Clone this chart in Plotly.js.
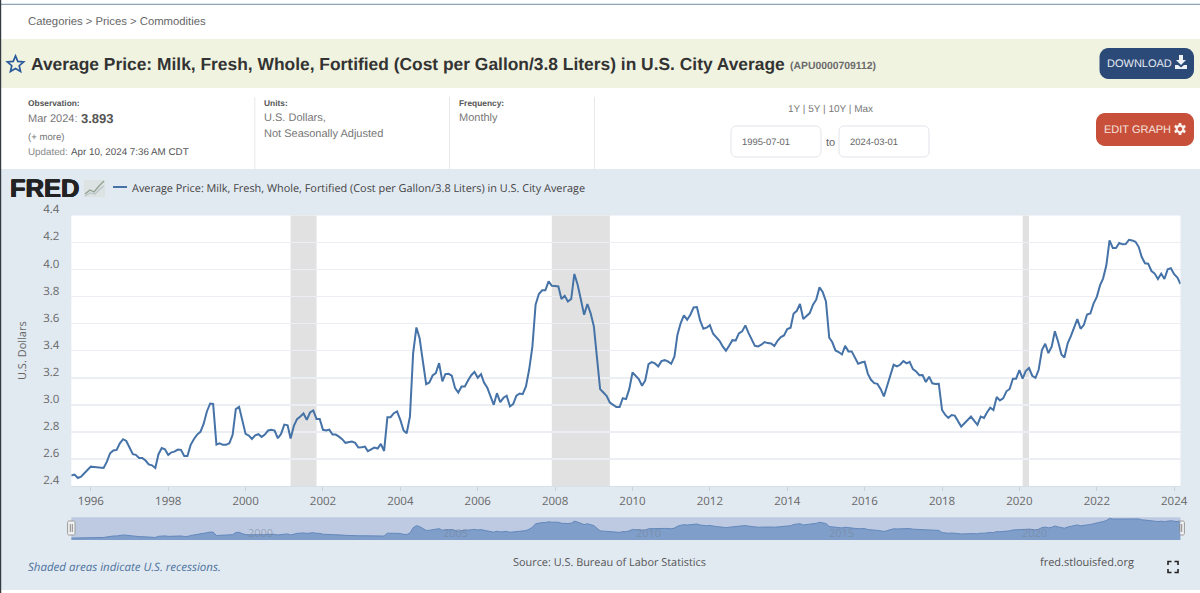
<!DOCTYPE html>
<html>
<head>
<meta charset="utf-8">
<script src="https://cdn.plot.ly/plotly-3.0.1.min.js"></script>
<style>html,body{margin:0;padding:0;background:#fff;overflow:hidden}#chart{width:1200px;height:593px}
#chart svg text{text-rendering:geometricPrecision !important}</style>
</head>
<body>
<div id="chart"></div>
<script>
// Monthly price, starting at 1995-07 and ending at 2024-03
var startYear = 1995, startMonth = 7;
var prices = [
2.477,2.484,2.459,2.469,2.494,2.519,
2.543,2.541,2.538,2.536,2.533,2.580,2.642,2.662,2.667,2.716,2.746,2.733,
2.686,2.635,2.630,2.607,2.607,2.588,2.560,2.553,2.533,2.635,2.681,2.672,
2.630,2.649,2.654,2.669,2.667,2.622,2.622,2.704,2.748,2.780,2.800,2.859,
2.951,3.010,3.007,2.706,2.716,2.704,2.704,2.716,2.778,2.968,2.985,2.877,
2.785,2.773,2.748,2.775,2.783,2.763,2.780,2.810,2.815,2.810,2.753,2.785,
2.854,2.849,2.751,2.844,2.894,2.914,2.936,2.889,2.943,2.958,2.896,2.896,
2.815,2.810,2.817,2.780,2.780,2.765,2.746,2.719,2.726,2.728,2.719,2.684,
2.686,2.691,2.657,2.672,2.684,2.677,2.711,2.659,2.909,2.909,2.938,2.951,
2.889,2.810,2.790,2.914,3.382,3.572,3.493,3.321,3.153,3.165,3.217,3.234,
3.308,3.173,3.227,3.229,3.215,3.123,3.091,3.136,3.136,3.180,3.219,3.244,
3.200,3.227,3.165,3.126,3.067,3.000,3.086,3.020,3.052,3.067,2.988,3.005,
3.067,3.084,3.079,3.136,3.259,3.432,3.740,3.819,3.846,3.846,3.912,3.880,
3.878,3.875,3.782,3.806,3.764,3.782,3.967,3.888,3.777,3.666,3.745,3.678,
3.580,3.333,3.116,3.091,3.067,3.017,2.998,2.983,2.983,3.049,3.042,3.116,
3.239,3.210,3.190,3.141,3.180,3.301,3.316,3.306,3.284,3.323,3.330,3.321,
3.303,3.358,3.518,3.604,3.661,3.629,3.666,3.720,3.723,3.624,3.562,3.570,
3.589,3.525,3.498,3.473,3.432,3.400,3.436,3.478,3.476,3.528,3.543,3.587,
3.530,3.481,3.436,3.432,3.444,3.464,3.456,3.454,3.434,3.473,3.501,3.513,
3.560,3.570,3.673,3.695,3.745,3.634,3.654,3.678,3.740,3.777,3.868,3.834,
3.764,3.496,3.464,3.402,3.390,3.372,3.436,3.395,3.395,3.345,3.303,3.313,
3.318,3.229,3.185,3.160,3.155,3.116,3.062,3.141,3.229,3.296,3.284,3.296,
3.323,3.306,3.318,3.264,3.247,3.219,3.220,3.169,3.208,3.159,3.154,3.156,
2.962,2.925,2.903,2.925,2.920,2.876,2.839,2.864,2.888,2.913,2.881,2.852,
2.913,2.903,2.943,2.979,2.962,3.058,3.033,3.048,3.100,3.117,3.193,3.193,
3.257,3.193,3.250,3.272,3.215,3.200,3.259,3.404,3.451,3.382,3.429,3.544,
3.466,3.372,3.350,3.454,3.508,3.572,3.633,3.562,3.591,3.667,3.675,3.748,
3.798,3.884,3.933,4.031,4.215,4.159,4.159,4.196,4.186,4.188,4.220,4.215,
4.205,4.166,4.092,4.046,4.043,3.989,3.970,3.930,3.970,3.930,4.001,4.009,
3.965,3.940,3.893
];
var recessionStarts = ['2001-03-01','2007-12-01','2020-02-01'];
var recessionEnds   = ['2001-11-01','2009-06-01','2020-04-01'];
var yTickValues = [2.4,2.6,2.8,3.0,3.2,3.4,3.6,3.8,4.0,4.2,4.4];
var yTickLabels = ['2.4','2.6','2.8','3.0','3.2','3.4','3.6','3.8','4.0','4.2','4.4'];
var navigatorYears = ['2000','2005','2010','2015','2020'];
var seriesTitle = 'Average Price: Milk, Fresh, Whole, Fortified (Cost per Gallon/3.8 Liters) in U.S. City Average';

var dates = prices.map(function(_, i){
  var m = startMonth - 1 + i, y = startYear + Math.floor(m/12), mm = (m % 12) + 1;
  return y + '-' + (mm < 10 ? '0' : '') + mm + '-01';
});

var W = 1200, H = 593;
var PL = 71.3, PR = 1180.5, PT = 215.4, PB = 486, NT = 517.3, NB = 540;
function fx(x){ return x / W; }
function fy(y){ return 1 - y / H; }
function rect(x0,y0,x1,y1,fill,line,lw){
  return {type:'rect',xref:'paper',yref:'paper',x0:fx(x0),x1:fx(x1),y0:fy(y0),y1:fy(y1),
    fillcolor:fill,line:{color:line||'rgba(0,0,0,0)',width:line?(lw||1):0},layer:'below'};
}
function poly(pts,close,fill,line,lw,layer){
  var d = pts.map(function(p,i){return (i?'L':'M')+fx(p[0])+','+fy(p[1]);}).join(' ')+(close?' Z':'');
  return {type:'path',xref:'paper',yref:'paper',path:d,fillcolor:fill||'rgba(0,0,0,0)',
    line:{color:line||'rgba(0,0,0,0)',width:line?(lw||1):0},layer:layer||'above'};
}
function round(x0,y0,x1,y1,r,fill,line){
  var pts=[],n=6;
  var cs=[[x1-r,y0+r,-90],[x1-r,y1-r,0],[x0+r,y1-r,90],[x0+r,y0+r,180]];
  cs.forEach(function(c){for(var i=0;i<=n;i++){var a=(c[2]+90*i/n)*Math.PI/180;pts.push([c[0]+r*Math.cos(a),c[1]+r*Math.sin(a)]);}});
  return poly(pts,true,fill,line,1,'below');
}
function radial(cx,cy,count,r1,r2){
  var pts=[];
  for(var i=0;i<count*2;i++){
    var a=(-90+180*i/count)*Math.PI/180, r=i%2?r2:r1;
    pts.push([cx+r*Math.cos(a),cy+r*Math.sin(a)]);
  }
  return pts;
}
function gear(cx,cy){
  var pts=[],n=6;
  for(var i=0;i<n;i++){
    var b=i*60-90;
    [[-20,4.4],[-12,6.2],[12,6.2],[20,4.4]].forEach(function(p){
      var a=(b+p[0])*Math.PI/180; pts.push([cx+p[1]*Math.cos(a),cy+p[1]*Math.sin(a)]);
    });
  }
  return pts;
}
function txt(text,x,y,size,color,o){
  o=o||{};
  var font={family:o.family||'"Liberation Sans",Arial,sans-serif',size:size,color:color};
  if(o.shadow) font.shadow=o.shadow;
  return {text:text,xref:'paper',yref:'paper',x:fx(x),y:fy(y),showarrow:false,
    xanchor:o.anchor||'left',yanchor:'middle',align:o.anchor||'left',
    borderpad:0,font:font};
}
var OS = '"Open Sans",sans-serif';

var shapes = [
  rect(0,39,W,88,'#f1f3e1'),
  rect(0,169,W,590,'#e1e9f1'),
  rect(PL,PT,PR,PB,'#ffffff'),
  rect(PL,NT,PR,NB,'#bdcae2'),
  rect(0,3.8,W,5,'#8ea4b8'),
  rect(0,0,1.2,H,'#333a40'),
  rect(254.3,97,255.3,169,'#e6e9ec'),
  rect(449,97,450,169,'#e6e9ec'),
  rect(594,97,595,169,'#e6e9ec'),
  round(731,126,821,157,5,'#ffffff','#e0e3e8'),
  round(839,126,929,157,5,'#ffffff','#e0e3e8'),
  round(1099.5,48,1194,79,9,'#2c4a78'),
  round(1096,113,1194,146,9,'#c8503a'),
  // title star
  poly(radial(15.5,64.5,5,8.6,3.9),true,null,'#2a5a9a',1.7),
  // download icon
  poly([[1179,55],[1183,55],[1183,60],[1186,60],[1181,65],[1176,60],[1179,60]],true,'#eef1f6'),
  poly([[1175,65],[1178,65],[1181,67.5],[1184,65],[1187,65],[1187,69],[1175,69]],true,'#eef1f6'),
  // edit graph gear
  poly(gear(1180,129),true,'#f8eeeb'),
  poly(radial(1180,129,8,2.2,2.2),true,'#c8503a'),
  // FRED mini icon
  rect(84,180,105,197,'#dde3e3'),
  poly([[85,194],[90,190],[94,192],[99,186],[104,181]],false,null,'#8fa08e',1.2),
  poly([[85,196],[90,193],[95,194],[100,189],[104,186]],false,null,'#b9c4c9',1.2),
  // legend key
  poly([[113,187],[127,187]],false,null,'#4572a7',2),
  // navigator handles
  round(67.6,521,75,535,1.5,'#f2f2f2','#999999'),
  round(1177,521,1184.4,535,1.5,'#f2f2f2','#999999'),
  poly([[70.3,524],[70.3,532]],false,null,'#888',1),
  poly([[72.3,524],[72.3,532]],false,null,'#888',1),
  poly([[1179.7,524],[1179.7,532]],false,null,'#888',1),
  poly([[1181.7,524],[1181.7,532]],false,null,'#888',1),
  // expand icon
  poly([[1168,565],[1168,561.5],[1171.5,561.5]],false,null,'#222',1.6),
  poly([[1174.5,561.5],[1178,561.5],[1178,565]],false,null,'#222',1.6),
  poly([[1168,569],[1168,572.5],[1171.5,572.5]],false,null,'#222',1.6),
  poly([[1174.5,572.5],[1178,572.5],[1178,569]],false,null,'#222',1.6)
];
recessionStarts.forEach(function(s,i){
  shapes.push({type:'rect',xref:'x',yref:'y domain',x0:s,x1:recessionEnds[i],y0:0,y1:1,
    fillcolor:'#e1e1e1',line:{width:0},layer:'below'});
});

var annotations = [
  txt('Categories &gt; Prices &gt; Commodities',27,21,11.3,'#666666'),
  txt('<b>'+seriesTitle+'</b>',29.5,64,17.4,'#333333'),
  txt('<b>(APU0000709112)</b>',789,65.5,10.4,'#6a6a6a'),
  txt('<b>Observation:</b>',27,103,8.4,'#555555'),
  txt('Mar 2024:',27,118.5,11,'#777777'),
  txt('<b>3.893</b>',79.5,118,13,'#555555'),
  txt('(+ more)',27,137,9.6,'#777777'),
  txt('Updated:',27,152,9.8,'#888888'),
  txt('Apr 10, 2024 7:36 AM CDT',69.5,152,9.8,'#555555'),
  txt('<b>Units:</b>',263,103,8.4,'#555555'),
  txt('U.S. Dollars,',263,117,11,'#777777'),
  txt('Not Seasonally Adjusted',263,133,11,'#777777'),
  txt('<b>Frequency:</b>',458,103,8.4,'#555555'),
  txt('Monthly',458,117,11,'#777777'),
  txt('1Y | 5Y | 10Y | Max',830,108.5,10,'#777777',{anchor:'center'}),
  txt('1995-07-01',766,141,9.4,'#666666',{anchor:'center'}),
  txt('to',830,141.5,11,'#666666',{anchor:'center'}),
  txt('2024-03-01',874,141,9.4,'#666666',{anchor:'center'}),
  txt('DOWNLOAD',1106,63,11,'#e6ebf2'),
  txt('EDIT GRAPH',1103,129,11,'#f6e3de'),
  txt('<b>FRED</b>',9,188,25.5,'#222222',{shadow:'0.6px 0 0 #222222,-0.6px 0 0 #222222,0 0.4px 0 #222222'}),
  txt(seriesTitle,131,187.5,10.9,'#444444',{family:OS}),
  txt('<i>Shaded areas indicate U.S. recessions.</i>',27,566,11.5,'#4d739e',{family:OS}),
  txt('Source: U.S. Bureau of Labor Statistics',512,561.5,10.9,'#555555',{family:OS}),
  txt('fred.stlouisfed.org',1039,561.5,11,'#555555',{family:OS})
];
var navX = [260,455,648,841,1034];
navigatorYears.forEach(function(y,i){
  annotations.push(txt(y,navX[i],532,11,'rgba(120,130,150,0.55)',{anchor:'center',family:OS}));
});

var traces = [
  {x:dates,y:prices,type:'scatter',mode:'lines',xaxis:'x',yaxis:'y',name:seriesTitle,
   line:{color:'#4572a7',width:2},hoverinfo:'skip',showlegend:false},
  {x:dates,y:prices,type:'scatter',mode:'lines',xaxis:'x2',yaxis:'y2',name:'navigator',
   fill:'tozeroy',fillcolor:'#7f9ec9',line:{color:'#6488bb',width:1},hoverinfo:'skip',showlegend:false}
];

var tickFont = {family:OS,size:11.5,color:'#666666'};
var layout = {
  width:W,height:H,margin:{l:0,r:0,t:0,b:0,pad:0},
  paper_bgcolor:'#ffffff',plot_bgcolor:'rgba(0,0,0,0)',showlegend:false,dragmode:false,
  xaxis:{type:'date',domain:[fx(PL),fx(PR)],range:[dates[0],dates[dates.length-1]],
    tick0:'1996-01-01',dtick:'M24',tickformat:'%Y',ticks:'outside',ticklen:4,tickwidth:1,
    tickcolor:'#c6d2de',showgrid:false,zeroline:false,showline:true,linecolor:'#d8dfe6',linewidth:1,
    tickfont:tickFont,anchor:'y',ticklabelstandoff:0},
  yaxis:{domain:[fy(PB),fy(PT)],range:[2.4,4.4],tickmode:'array',tickvals:yTickValues,ticktext:yTickLabels,
    showgrid:true,gridcolor:'#ebeef2',gridwidth:1.5,zeroline:false,showline:false,ticks:'',
    ticklabelshift:-6,ticklabelstandoff:11,
    tickfont:tickFont,anchor:'x',
    title:{text:'U.S. Dollars',font:{family:OS,size:11,color:'#666666'},standoff:14}},
  xaxis2:{type:'date',domain:[fx(PL),fx(PR)],range:[dates[0],dates[dates.length-1]],visible:false,anchor:'y2'},
  yaxis2:{domain:[fy(NB),fy(NT)],range:[2.31,4.31],visible:false,anchor:'x2'},
  shapes:shapes,annotations:annotations
};
Plotly.newPlot('chart',traces,layout,{displayModeBar:false,staticPlot:true});
</script>
</body>
</html>
